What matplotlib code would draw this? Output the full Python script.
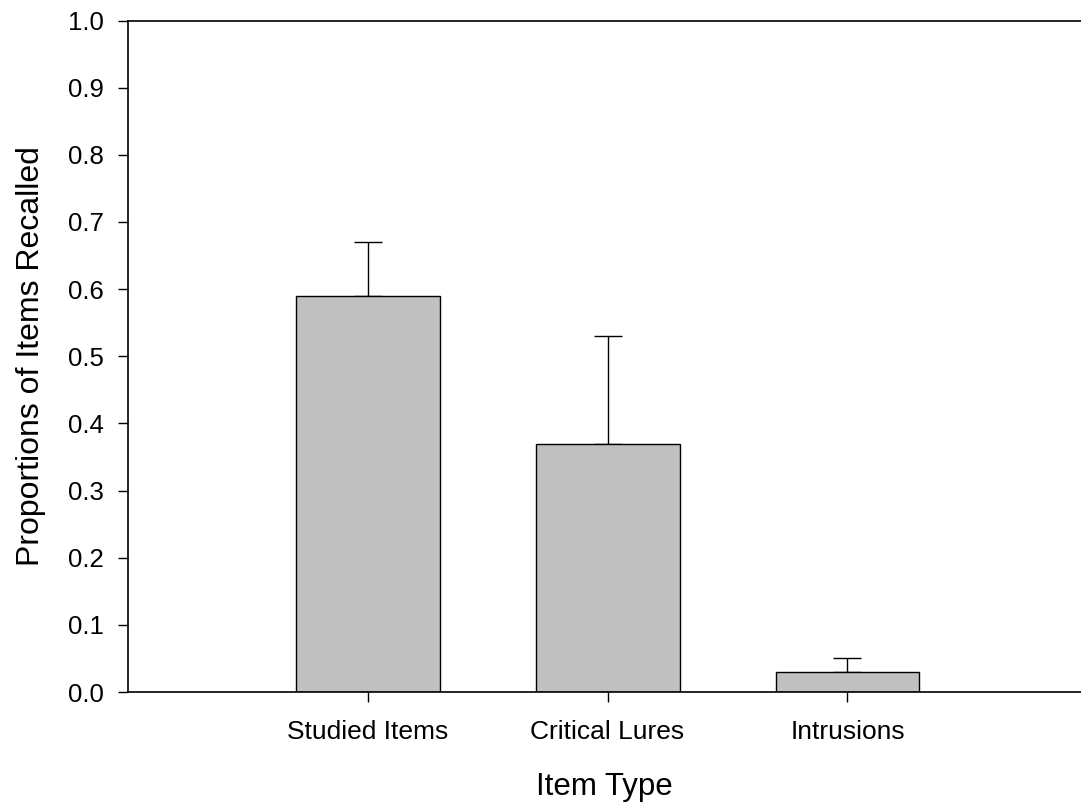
import numpy as np
import matplotlib.pyplot as plt

plt.rcParams['font.family'] = ['Liberation Sans', 'DejaVu Sans']

# recall proportions per item type, with upper error
categories = ['Studied Items', 'Critical Lures', 'Intrusions']
means = [0.59, 0.37, 0.03]
errors = [0.08, 0.16, 0.02]

fig = plt.figure(figsize=(10.81, 8.11), dpi=100)
ax = fig.add_axes([0.118, 0.1467, 0.882, 0.828])

x = np.arange(1, len(categories) + 1)
ax.bar(x, means, width=0.6, color='#c0c0c0', edgecolor='black', linewidth=1.0, zorder=2)
ax.errorbar(x, means, yerr=[np.zeros(len(errors)), errors], fmt='none',
            ecolor='black', elinewidth=1.0, capsize=10, capthick=1.0, zorder=1)

ax.set_xlim(0, 3.973)
ax.set_ylim(0, 1.0)
ax.set_yticks(np.arange(0, 1.01, 0.1))
ax.set_yticklabels([f'{v:.1f}' for v in np.arange(0, 1.01, 0.1)])
ax.set_xticks(x)
ax.set_xticklabels(categories)

ax.spines['right'].set_visible(False)
for s in ['left', 'bottom', 'top']:
    ax.spines[s].set_linewidth(1.2)

ax.tick_params(axis='y', direction='out', length=7, width=1.0, labelsize=18.5, pad=10)
ax.tick_params(axis='x', direction='out', length=7, width=1.0, labelsize=19, pad=13)

ax.set_xlabel('Item Type', fontsize=22.5, labelpad=20)
ax.set_ylabel('Proportions of Items Recalled', fontsize=23, labelpad=16)

fig.savefig('out.png', dpi=100)
